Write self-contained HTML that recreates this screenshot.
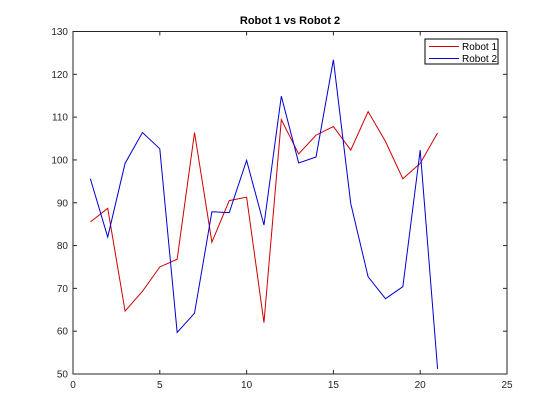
<!DOCTYPE html>
<html><head><meta charset="utf-8"><style>
body{margin:0;background:#fff}
svg{display:block;font-family:"Liberation Sans",sans-serif}
</style></head><body>
<svg id="chart" width="560" height="420" viewBox="0 0 560 420">
<rect width="560" height="420" fill="#fff"/>
<text x="290" y="24" text-anchor="middle" font-size="11" font-weight="bold">Robot 1 vs Robot 2</text>
<g id="axes"></g>
<g id="series"></g>
<g>
<rect x="425" y="39" width="73" height="25" fill="#fff" stroke="#000" stroke-width="1"/>
<line x1="429" y1="46.5" x2="459" y2="46.5" stroke="#d00000" stroke-width="1"/>
<text x="462" y="50" font-size="10">Robot 1</text>
<line x1="429" y1="58.5" x2="459" y2="58.5" stroke="#0000d0" stroke-width="1"/>
<text x="462" y="62" font-size="10">Robot 2</text>
</g>
</svg>
<script>
const xValues=[1,2,3,4,5,6,7,8,9,10,11,12,13,14,15,16,17,18,19,20,21];
const robot1=[85.5,88.7,64.7,69.3,75,76.8,106.4,80.8,90.5,91.3,62,109.4,101.4,105.8,107.8,102.3,111.3,104.3,95.6,99.2,106.3];
const robot2=[95.6,82,99.2,106.4,102.6,59.7,64.2,87.9,87.7,99.9,84.8,114.9,99.3,100.7,123.4,89.8,72.7,67.6,70.4,102.3,51.2];
const xTicks=[0,5,10,15,20,25];
const yTicks=[50,60,70,80,90,100,110,120,130];
const L=73,R=507,T=31.5,B=374;
const sx=v=>L+(v-0)/(25-0)*(R-L);
const sy=v=>B-(v-50)/(130-50)*(B-T);
const NS="http://www.w3.org/2000/svg";
const ax=document.getElementById('axes');
function mk(tag,attrs,parent){const e=document.createElementNS(NS,tag);for(const k in attrs)e.setAttribute(k,attrs[k]);parent.appendChild(e);return e;}
const box=mk('rect',{x:L,y:T,width:R-L,height:B-T,fill:'none',stroke:'#262626','stroke-width':1},ax);


xTicks.forEach(t=>{const x=sx(t);
mk('line',{x1:x,y1:B,x2:x,y2:B-4,stroke:'#262626'},ax);
mk('line',{x1:x,y1:T,x2:x,y2:T+4,stroke:'#262626'},ax);
const tx=mk('text',{x:x,y:B+14,'text-anchor':'middle','font-size':10,fill:'#262626'},ax);tx.textContent=t;

});
yTicks.forEach(t=>{const y=sy(t);
mk('line',{x1:L,y1:y,x2:L+4,y2:y,stroke:'#262626'},ax);
mk('line',{x1:R,y1:y,x2:R-4,y2:y,stroke:'#262626'},ax);
const tx=mk('text',{x:L-5,y:y+3.5,'text-anchor':'end','font-size':10,fill:'#262626'},ax);tx.textContent=t;

});
const sg=document.getElementById('series');
[[robot1,'#d00000','robot-1-line'],[robot2,'#0000d0','robot-2-line']].forEach(([d,c,n])=>{
const p=mk('polyline',{points:d.map((v,i)=>sx(xValues[i])+','+sy(v)).join(' '),fill:'none',stroke:c,'stroke-width':1},sg);

});
</script>
</body></html>
